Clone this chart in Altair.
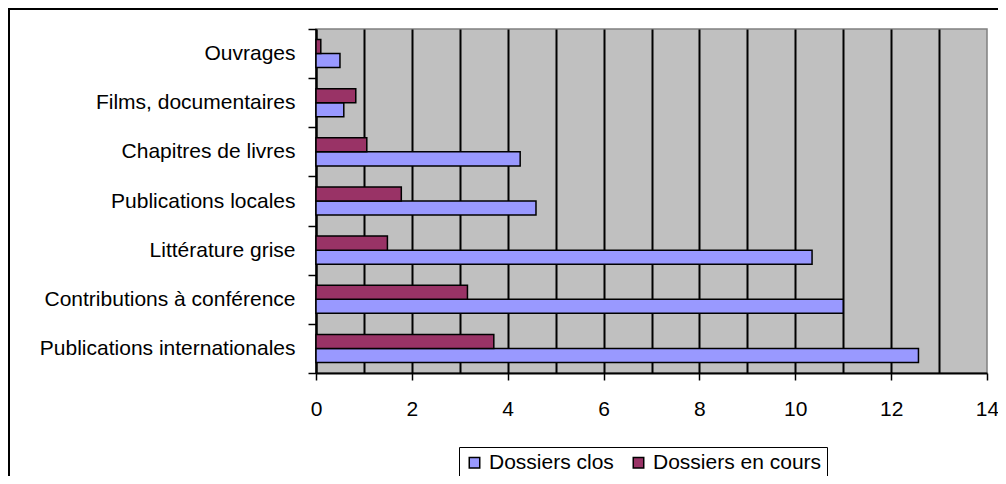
import altair as alt
import pandas as pd

categories = ["Ouvrages", "Films, documentaires", "Chapitres de livres",
              "Publications locales", "Littérature grise",
              "Contributions à conférence", "Publications internationales"]
clos = [0.5, 0.58, 4.26, 4.59, 10.35, 11.0, 12.57]
en_cours = [0.1, 0.83, 1.06, 1.78, 1.49, 3.16, 3.71]
series = ["Dossiers clos", "Dossiers en cours"]
x_ticks = list(range(0, 15))

rows = []
for c, a, b in zip(categories, clos, en_cours):
    rows.append({"cat": c, "serie": series[0], "value": a})
    rows.append({"cat": c, "serie": series[1], "value": b})
df = pd.DataFrame(rows)

FONT = "Liberation Sans"
FS = 21
W, H = 671, 344

bars = alt.Chart(df).mark_bar(stroke="black", strokeWidth=1.5).encode(
    x=alt.X("value:Q",
            scale=alt.Scale(domain=[0, 14], nice=False, zero=True),
            axis=alt.Axis(values=x_ticks, title=None, grid=True,
                          gridColor="black", gridWidth=2,
                          gridOpacity={"condition": {"test": "datum.value == 14", "value": 0}, "value": 1},
                          tickOpacity={"condition": {"test": "datum.value % 2 != 0", "value": 0}, "value": 1},
                          labelExpr="datum.value % 2 == 0 ? datum.label : ''",
                          tickSize=7, tickColor="black", tickWidth=1.5,
                          domainColor="black", domainWidth=2,
                          labelFont=FONT, labelFontSize=FS, labelColor="black",
                          labelPadding=18, labelOverlap=False, labelFlush=False)),
    y=alt.Y("cat:N", sort=categories,
            scale=alt.Scale(paddingInner=0, paddingOuter=0),
            axis=alt.Axis(title=None, tickBand="extent", tickSize=8,
                          tickColor="black", tickWidth=1.5,
                          domainColor="black", domainWidth=2,
                          labelFont=FONT, labelFontSize=FS, labelColor="black",
                          labelPadding=13, labelLimit=500)),
    yOffset=alt.YOffset("serie:N", sort=["Dossiers en cours", "Dossiers clos"],
                        scale=alt.Scale(paddingOuter=0.75, paddingInner=0)),
    color=alt.Color("serie:N",
                    scale=alt.Scale(domain=series, range=["#9999FF", "#993366"]),
                    legend=alt.Legend(title=None, orient="none", legendX=143, legendY=418,
                                      direction="horizontal", strokeColor="black",
                                      fillColor="white", padding=5,
                                      labelFont=FONT, labelFontSize=FS, labelColor="black",
                                      labelLimit=500,
                                      symbolType="square", symbolSize=110,
                                      symbolStrokeColor="black", symbolStrokeWidth=1.5,
                                      columnPadding=14, labelOffset=4)),
)

frame = pd.DataFrame({"a": [0]})
top_border = alt.Chart(frame).mark_rule(color="black", strokeWidth=2).encode(
    x=alt.value(-308), x2=alt.value(690), y=alt.value(-20))
left_border = alt.Chart(frame).mark_rule(color="black", strokeWidth=2).encode(
    x=alt.value(-307), y=alt.value(-20), y2=alt.value(447))

chart = alt.layer(bars, top_border, left_border).properties(
    width=W, height=H,
    autosize=alt.AutoSizeParams(type="none"),
    padding={"left": 308, "top": 21, "right": 11, "bottom": 103},
    background="white",
).configure_view(fill="#C0C0C0", stroke="#808080", strokeWidth=1.5)

chart.save("out.html", embed_options={"renderer": "svg", "actions": False})
